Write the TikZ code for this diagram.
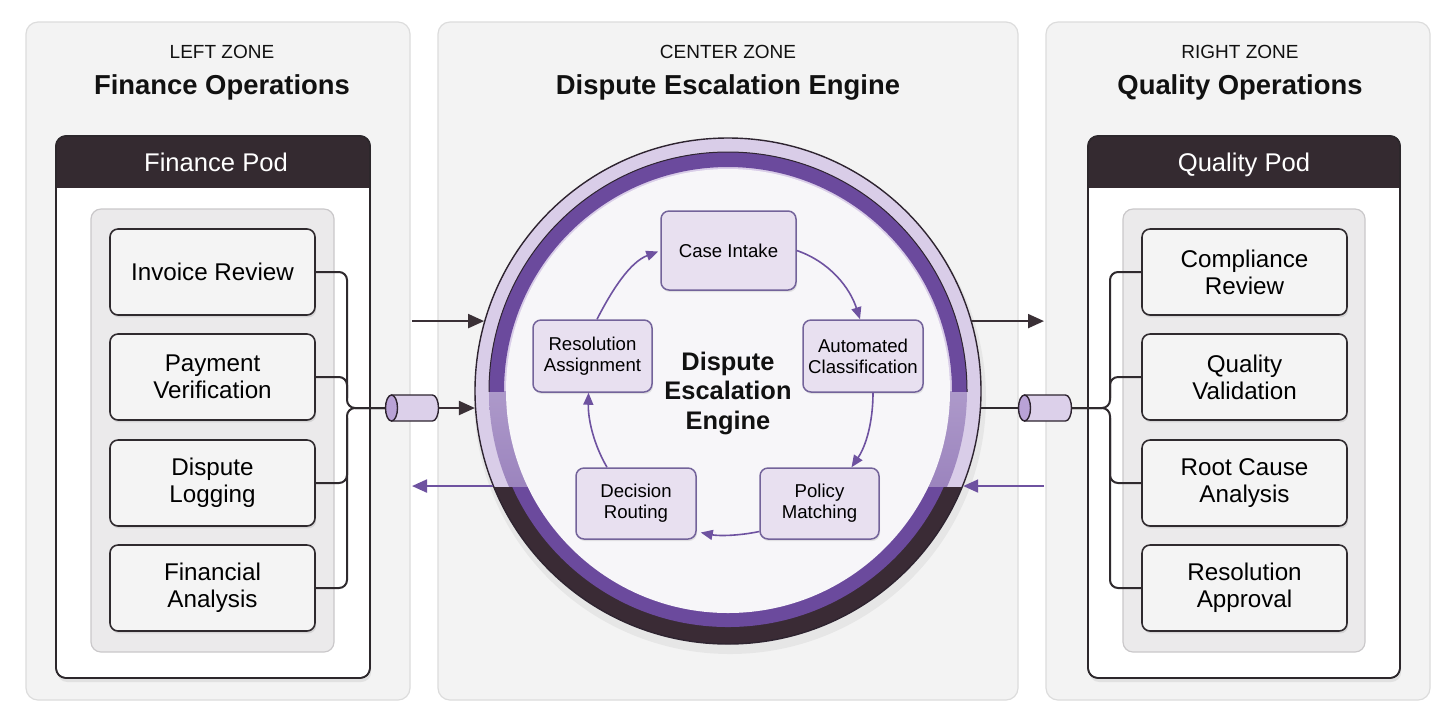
\documentclass[tikz,border=0pt]{standalone}
\usepackage{fontspec}
\setmainfont{Liberation Sans}
\usetikzlibrary{calc,shadows,arrows.meta}
\definecolor{zonefill}{HTML}{F3F3F3}
\definecolor{zoneline}{HTML}{DCDCDC}
\definecolor{podline}{HTML}{2C272B}
\definecolor{podhead}{HTML}{342A30}
\definecolor{panelfill}{HTML}{EBEAEB}
\definecolor{panelline}{HTML}{CAC8CA}
\definecolor{boxfill}{HTML}{F4F4F4}
\definecolor{boxline}{HTML}{2F2A2E}
\definecolor{eboxfill}{HTML}{E8E0F0}
\definecolor{eboxline}{HTML}{73639A}
\definecolor{arrdark}{HTML}{3A3036}
\definecolor{arrpurple}{HTML}{6E52A0}
\definecolor{ringlav}{HTML}{D9CDE8}
\definecolor{ringpurple}{HTML}{6B4A9D}
\definecolor{ringdark}{HTML}{3A2B35}
\definecolor{ringline}{HTML}{2E2430}
\definecolor{discfill}{HTML}{F7F6F9}
\definecolor{cylbody}{HTML}{DCD0EA}
\definecolor{cylend}{HTML}{B9A2D6}
\definecolor{titletext}{HTML}{111111}
\begin{document}
\begin{tikzpicture}[x=0.5pt,y=-0.5pt,
  zone/.style={fill=zonefill, draw=zoneline, line width=0.6pt, rounded corners=6pt},
  ztitle/.style={anchor=base, text=titletext, font=\fontsize{9.5}{11}\selectfont, inner sep=0pt},
  zhead/.style={anchor=base, text=titletext, font=\bfseries\fontsize{13.7}{16}\selectfont, inner sep=0pt},
  podbox/.style={fill=white, draw=podline, line width=0.8pt, rounded corners=5pt, drop shadow={shadow xshift=0.6pt, shadow yshift=-2pt, opacity=0.15}},
  podtitle/.style={anchor=base, text=white, font=\fontsize{12.8}{15}\selectfont, inner sep=0pt},
  panel/.style={fill=panelfill, draw=panelline, line width=0.6pt, rounded corners=5pt},
  fbox/.style={fill=boxfill, draw=boxline, line width=0.8pt, rounded corners=4pt, minimum width=102.5pt, minimum height=43pt, align=center, inner sep=0pt, font=\fontsize{12.1}{13.5}\selectfont, drop shadow={shadow xshift=0.6pt, shadow yshift=-1.2pt, opacity=0.2}},
  ebox/.style={fill=eboxfill, draw=eboxline, line width=0.75pt, rounded corners=4pt, align=center, inner sep=0pt, font=\fontsize{9.3}{10.6}\selectfont, drop shadow={shadow xshift=0.5pt, shadow yshift=-1pt, opacity=0.18}},
  etitle/.style={align=center, font=\bfseries\fontsize{12.7}{14.75}\selectfont, text=titletext, inner sep=0pt},
  bus/.style={draw=boxline, line width=1pt, rounded corners=4pt},
  darrow/.style={draw=arrdark, line width=1pt, -{Triangle[length=8pt,width=7pt]}},
  parrow/.style={draw=arrpurple, line width=1pt, -{Triangle[length=7.5pt,width=6.5pt]}},
  earrow/.style={draw=arrpurple, line width=0.8pt, -{Triangle[length=6pt,width=5pt]}},
  cylspace/.style={minimum width=26.5pt, minimum height=13pt, inner sep=0pt},
  cylb/.style={fill=cylbody, draw=ringline, line width=0.7pt},
  cyle/.style={fill=cylend, draw=ringline, line width=0.7pt}
]
\useasboundingbox (0,0) rectangle (1456,720);
\fill[white] (0,0) rectangle (1456,720);

% zones
\draw[zone] (26,22) rectangle (410,700);
\draw[zone] (438,22) rectangle (1018,700);
\draw[zone] (1046,22) rectangle (1430,700);

\node[ztitle] (lzt) at (222,58) {LEFT ZONE};
\node[zhead] (lzh) at (222,94) {Finance Operations};
\node[ztitle] (czt) at (728,58) {CENTER ZONE};
\node[zhead] (czh) at (728,94) {Dispute Escalation Engine};
\node[ztitle] (rzt) at (1240,58) {RIGHT ZONE};
\node[zhead] (rzh) at (1240,94) {Quality Operations};

% left pod
\draw[podbox] (56,136) rectangle (370,678);
\begin{scope}
\clip[rounded corners=5pt] (56,136) rectangle (370,678);
\fill[podhead] (56,136) rectangle (370,188);
\end{scope}
\draw[draw=podline, line width=0.8pt, rounded corners=5pt] (56,136) rectangle (370,678);
\node[podtitle] (lpt) at (216,171) {Finance Pod};
\draw[panel] (91,209) rectangle (334,652);
\node[fbox] (inv) at (212.5,272) {Invoice Review};
\node[fbox] (pay) at (212.5,377) {Payment\\Verification};
\node[fbox] (dlog) at (212.5,483) {Dispute\\Logging};
\node[fbox] (fan) at (212.5,588) {Financial\\Analysis};

% right pod
\draw[podbox] (1088,136) rectangle (1400,678);
\begin{scope}
\clip[rounded corners=5pt] (1088,136) rectangle (1400,678);
\fill[podhead] (1088,136) rectangle (1400,188);
\end{scope}
\draw[draw=podline, line width=0.8pt, rounded corners=5pt] (1088,136) rectangle (1400,678);
\node[podtitle] (rpt) at (1244,171) {Quality Pod};
\draw[panel] (1123,209) rectangle (1365,652);
\node[fbox] (crev) at (1244.5,272) {Compliance\\Review};
\node[fbox] (qval) at (1244.5,377) {Quality\\Validation};
\node[fbox] (rca) at (1244.5,483) {Root Cause\\Analysis};
\node[fbox] (rapp) at (1244.5,588) {Resolution\\Approval};

% ring
\fill[black, opacity=0.05] (730,398) circle[radius=128pt];
\fill[ringlav] (728,391) circle[radius=126.5pt];
\begin{scope}
\clip (440,391) rectangle (1016,487);
\shade[top color=ringlav, bottom color=ringpurple!85] (728,391) circle[radius=119.5pt];
\end{scope}
\begin{scope}
\clip (440,0) rectangle (1016,391);
\fill[ringpurple, even odd rule] (728,391) circle[radius=119.5pt] (728,391) circle[radius=112pt];
\draw[ringline, line width=0.5pt] (728,391) circle[radius=119.5pt];
\end{scope}
\begin{scope}
\clip (440,487) rectangle (1016,720);
\fill[ringdark] (728,391) circle[radius=126.5pt];
\fill[ringpurple] (728,391) circle[radius=118pt];
\end{scope}
\fill[discfill] (728,391) circle[radius=111pt];
\node[circle, minimum size=253pt, inner sep=0pt, draw=ringline, line width=0.7pt] (ring) at (728,391) {};

\node[etitle] (eng) at (728,393) {Dispute\\Escalation\\Engine};

\node[ebox, minimum width=67.5pt, minimum height=39.5pt] (ci) at (728.5,250.5) {Case Intake};
\node[ebox, minimum width=60pt, minimum height=36pt] (ac) at (863,356) {Automated\\Classification};
\node[ebox, minimum width=59.5pt, minimum height=35.5pt] (pm) at (819.5,503.5) {Policy\\Matching};
\node[ebox, minimum width=60pt, minimum height=35.5pt] (dr) at (636,503.5) {Decision\\Routing};
\node[ebox, minimum width=59.5pt, minimum height=36pt] (ra) at (592.5,356) {Resolution\\Assignment};

\draw[earrow] (ci.east) .. controls (830,262) and (850,288) .. ($(ac.north)+(-3,0)$);
\draw[earrow] ($(ac.south)+(10,0)$) .. controls (873,422) and (866,446) .. ($(pm.north)+(32,0)$);
\draw[earrow] ($(pm.west)+(0,28)$) .. controls (738,536) and (718,536) .. ($(dr.east)+(4,29)$);
\draw[earrow] ($(dr.north)+(-29,0)$) .. controls (594,445) and (588,420) .. ($(ra.south)+(-4,0)$);
\draw[earrow] ($(ra.north)+(4.5,0)$) .. controls (612,290) and (630,262) .. ($(ci.west)+(-2,1)$);

% cylinders
\node[cylspace] (cylL) at (412,408) {};
\draw[cylb] (391.5,395) -- (432.5,395) arc[start angle=90, end angle=-90, x radius=3pt, y radius=6.5pt] -- (391.5,421) -- cycle;
\draw[cyle] (391.5,408) ellipse[x radius=3pt, y radius=6.5pt];
\node[cylspace] (cylR) at (1045,408) {};
\draw[cylb] (1024.5,395) -- (1065.5,395) arc[start angle=90, end angle=-90, x radius=3pt, y radius=6.5pt] -- (1024.5,421) -- cycle;
\draw[cyle] (1024.5,408) ellipse[x radius=3pt, y radius=6.5pt];

% buses
\coordinate (busL) at (347,408);
\draw[bus] (inv.east) -| (busL) -- (cylL.west);
\draw[bus] (fan.east) -| (busL) -- (cylL.west);
\draw[bus] (pay.east) -| ($(busL)+(0,-10)$);
\draw[bus] (dlog.east) -| ($(busL)+(0,10)$);
\coordinate (busR) at (1110,408);
\draw[bus] (crev.west) -| (busR) -- (cylR.east);
\draw[bus] (rapp.west) -| (busR) -- (cylR.east);
\draw[bus] (qval.west) -| ($(busR)+(0,-10)$);
\draw[bus] (rca.west) -| ($(busR)+(0,10)$);

% zone links
\coordinate (tl1) at (412,321);
\coordinate (tl3) at (412,487);
\coordinate (tr1) at (1044,321);
\coordinate (tr3) at (1044,487);
\draw[darrow] (tl1 |- ring.164) -- (ring.164);
\draw[darrow] (cylL.east) -- (cylL.east -| ring.184);
\draw[parrow] (ring.202.3) -- (tl3 |- ring.202.3);
\draw[darrow] (ring.16) -- (tr1 |- ring.16);
\draw[bus] (cylR.west -| ring.-4) -- (cylR.west);
\draw[parrow] (tr3 |- ring.-22.3) -- (ring.-22.3);
\end{tikzpicture}
\end{document}
